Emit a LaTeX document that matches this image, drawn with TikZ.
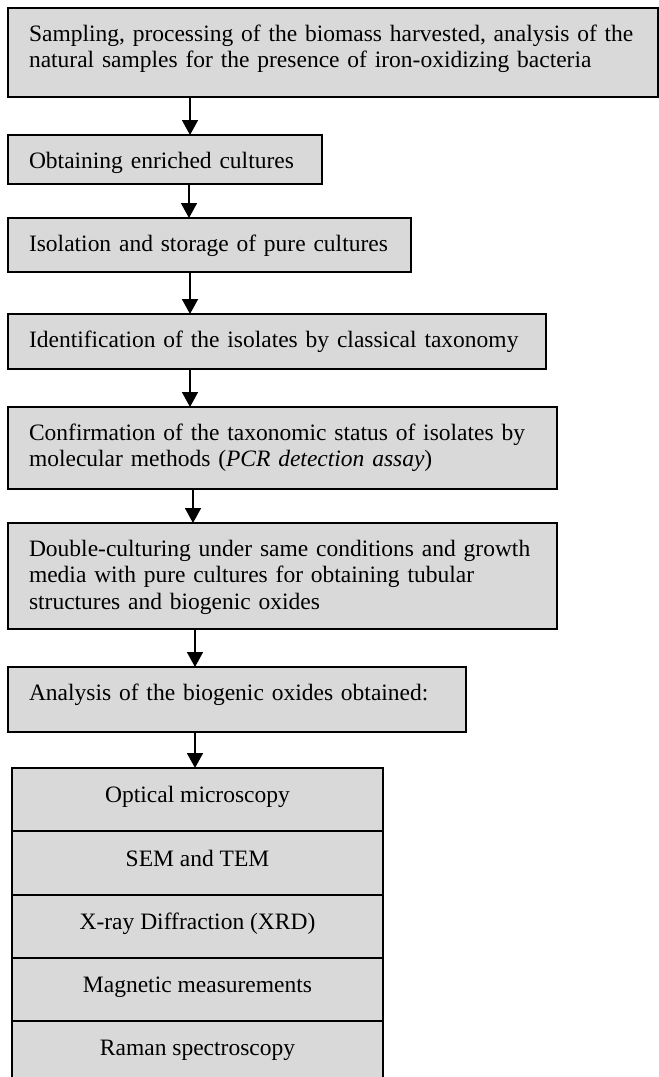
\documentclass[tikz,border=0pt]{standalone}
\usepackage{fontspec}
\setmainfont{Liberation Serif}
\usetikzlibrary{arrows.meta}
\definecolor{boxgray}{RGB}{217,217,217}

\tikzset{
  stage/.style={draw, fill=boxgray, line width=0.9pt, anchor=north west, align=left,
    inner xsep=10.5pt, inner ysep=6pt, text height=10.5pt, outer sep=0pt,
    font=\fontsize{11.75}{13.4}\selectfont},
  method/.style={draw, fill=boxgray, line width=0.9pt, anchor=north west, align=center,
    minimum width=185.5pt, minimum height=31.7pt, text height=7pt, text depth=4pt,
    inner sep=0pt, outer sep=0pt, font=\fontsize{11.75}{13.4}\selectfont}
}

\begin{document}
\begin{tikzpicture}[line cap=round,>={Triangle[width=8pt,length=7.5pt]},x=0.5pt,y=-0.5pt]

		\clip (0,0) rectangle (659,1077);

		%vaiheet
		\node[stage, text width=304pt, text depth=22pt] (sampling) at (8,8)
			{Sampling, processing of the biomass harvested, analysis of the\\natural samples for the presence of iron-oxidizing bacteria};
		\node[stage, text width=136pt, text depth=2pt] (enriched) at (8,135)
			{Obtaining enriched cultures};
		\node[stage, text width=180.5pt, text depth=4.5pt] (isolation) at (8,218)
			{Isolation and storage of pure cultures};
		\node[stage, text width=248pt, text depth=5pt] (identification) at (8,314)
			{Identification of the isolates by classical taxonomy};
		\node[stage, text width=253.5pt, text depth=18.5pt] (confirmation) at (8,407)
			{Confirmation of the taxonomic status of isolates by\\molecular methods (\textit{PCR detection assay})};
		\node[stage, text width=253.5pt, text depth=30.5pt] (doubleculture) at (8,523)
			{Double-culturing under same conditions and growth\\media with pure cultures for obtaining tubular\\structures and biogenic oxides};
		\node[stage, text width=208pt, text depth=10pt] (analysis) at (8,667)
			{Analysis of the biogenic oxides obtained:};

		%menetelmat
		\foreach \t [count=\i] in {Optical microscopy, SEM and TEM, X-ray Diffraction (XRD), Magnetic measurements, Raman spectroscopy}
		{
		\node[method] (m\i) at (12,{768+63.3*(\i-1)}) {\t};
		}

		%nuolet
		\foreach \a/\b/\s/\u in {sampling/enriched/91/91, enriched/isolation/90.5/90.5, isolation/identification/91/91, identification/confirmation/91/91, confirmation/doubleculture/92.5/92.5, doubleculture/analysis/93.5/93.5, analysis/m1/93.5/91.5}
		{\draw[->, line width=0.8pt] ([xshift=\s pt]\a.south west) -- ([xshift=\u pt]\b.north west);
		}

	\end{tikzpicture}
\end{document}
